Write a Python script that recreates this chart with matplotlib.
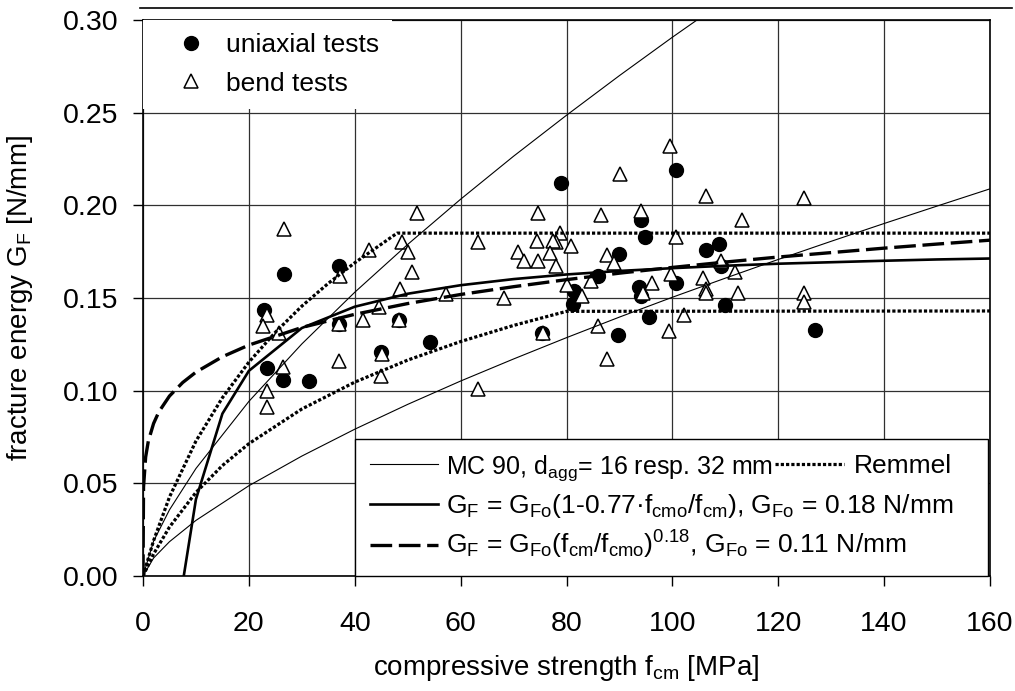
import matplotlib.pyplot as plt
from matplotlib.lines import Line2D

plt.rcParams['font.family'] = ['Liberation Sans', 'DejaVu Sans']
plt.rcParams['mathtext.fontset'] = 'custom'
plt.rcParams['mathtext.rm'] = 'Liberation Sans'
plt.rcParams['mathtext.it'] = 'Liberation Sans:italic'
plt.rcParams['font.size'] = 19

# test results: f_cm [MPa], G_F [N/mm]
uni_x = [26.7, 37.0, 22.9, 37.0, 48.4, 54.2, 44.9, 23.5, 26.5, 31.4,
         78.9, 100.6, 94.0, 94.9, 89.9, 106.3, 108.8, 109.1, 86.0, 100.6,
         81.4, 81.3, 93.7, 94.1, 95.5, 110.0, 89.8, 75.3, 126.9]
uni_y = [0.163, 0.167, 0.1435, 0.136, 0.138, 0.126, 0.121, 0.112, 0.106, 0.105,
         0.212, 0.219, 0.192, 0.183, 0.174, 0.176, 0.179, 0.167, 0.162, 0.158,
         0.154, 0.147, 0.156, 0.151, 0.140, 0.146, 0.130, 0.131, 0.133]

bend_x = [26.7, 51.8, 49.0, 50.0, 50.9, 48.5, 42.6, 37.3, 57.2, 44.6,
          41.6, 48.4, 37.0, 23.5, 22.6, 25.7, 37.0, 26.5, 45.2, 44.9,
          23.5, 23.5,
          99.5, 90.2, 106.3, 124.8, 74.7, 86.5, 94.1, 113.1, 63.3, 78.8,
          74.5, 78.0, 77.5, 80.8, 100.7, 70.9, 72.0, 74.7, 76.9, 78.0,
          87.7, 89.0, 80.0, 84.7, 83.0, 96.2, 99.7, 109.1, 111.8, 105.8,
          106.3, 106.3, 112.4, 94.4, 68.2, 124.8, 124.8, 102.2, 86.0, 75.6,
          99.4, 87.7, 63.3]
bend_y = [0.187, 0.196, 0.180, 0.175, 0.164, 0.155, 0.176, 0.162, 0.152, 0.145,
          0.138, 0.138, 0.136, 0.141, 0.135, 0.131, 0.116, 0.113, 0.120, 0.108,
          0.100, 0.091,
          0.232, 0.217, 0.205, 0.204, 0.196, 0.195, 0.197, 0.192, 0.180, 0.185,
          0.181, 0.180, 0.181, 0.178, 0.183, 0.175, 0.170, 0.170, 0.1745, 0.167,
          0.173, 0.169, 0.157, 0.159, 0.151, 0.158, 0.163, 0.170, 0.164, 0.161,
          0.155, 0.1525, 0.1525, 0.1525, 0.150, 0.1525, 0.148, 0.141, 0.135, 0.131,
          0.132, 0.117, 0.101]

# model curves
mc90_x = [0, 2, 5, 10, 20, 30, 40, 50, 60, 70, 80, 90, 100, 110, 120, 130, 140, 150, 160]
mc90_16 = [0, 0.0097, 0.0185, 0.030, 0.0487, 0.0647, 0.0792, 0.0926, 0.1052, 0.1171,
           0.1286, 0.1397, 0.1504, 0.1607, 0.1708, 0.1806, 0.1902, 0.1996, 0.2089]
mc90_32x = [0, 2, 5, 10, 20, 30, 40, 50, 60, 70, 80, 90, 100, 110]
mc90_32 = [0, 0.0188, 0.0357, 0.058, 0.0942, 0.1252, 0.1531, 0.1789, 0.2033, 0.2265,
           0.2486, 0.2700, 0.2907, 0.3107]

rem_hi_x = [0, 2, 5, 10, 15, 20, 25, 30, 35, 40, 45, 48, 160]
rem_hi_y = [0, 0.0191, 0.0426, 0.0728, 0.0962, 0.1154, 0.1315, 0.1456, 0.1579, 0.1690,
            0.1790, 0.185, 0.185]
rem_lo_x = [0, 2, 5, 10, 15, 20, 30, 40, 50, 60, 70, 80, 160]
rem_lo_y = [0, 0.0119, 0.0264, 0.0451, 0.0596, 0.0714, 0.0901, 0.1046, 0.1165, 0.1265,
            0.1352, 0.1428, 0.143]

lin_x = [7.7, 10, 15, 20, 30, 40, 50, 60, 70, 80, 90, 100, 110, 120, 130, 140, 150, 160]
lin_y = [0, 0.0414, 0.0876, 0.1107, 0.1338, 0.1453, 0.1523, 0.1569, 0.1602, 0.1627,
         0.1646, 0.1661, 0.1674, 0.1685, 0.1693, 0.1701, 0.1708, 0.1713]

pow_x = [0, 0.1, 0.5, 1, 2, 3, 5, 7.5, 10, 15, 20, 30, 40, 50, 60, 70, 80, 90, 100,
         110, 120, 130, 140, 150, 160]
pow_y = [0, 0.048, 0.0642, 0.0727, 0.0823, 0.0886, 0.0971, 0.1044, 0.110, 0.1183,
         0.1246, 0.1341, 0.1412, 0.1470, 0.1519, 0.1561, 0.1599, 0.1634, 0.1665,
         0.1694, 0.1721, 0.1745, 0.1769, 0.1791, 0.1812]

x_ticks = [0, 20, 40, 60, 80, 100, 120, 140, 160]
y_ticks = [0.00, 0.05, 0.10, 0.15, 0.20, 0.25, 0.30]
y_tick_labels = ['0.00', '0.05', '0.10', '0.15', '0.20', '0.25', '0.30']

lab_mc90 = 'MC 90, d$_{\\mathregular{agg}}$= 16 resp. 32 mm'
lab_lin = ('G$_{\\mathregular{F}}$ = G$_{\\mathregular{Fo}}$(1-0.77\u00b7f$_{\\mathregular{cmo}}$'
           '/f$_{\\mathregular{cm}}$), G$_{\\mathregular{Fo}}$ = 0.18 N/mm')
lab_pow = ('G$_{\\mathregular{F}}$ = G$_{\\mathregular{Fo}}$(f$_{\\mathregular{cm}}$'
           '/f$_{\\mathregular{cmo}}$)$^{\\mathregular{0.18}}$, G$_{\\mathregular{Fo}}$ = 0.11 N/mm')

fig = plt.figure(figsize=(10.15, 6.91), dpi=100)
ax = fig.add_axes([143 / 1015, 115 / 691, 847 / 1015, 556 / 691])

uni, = ax.plot(uni_x, uni_y, 'o', ms=10, mfc='k', mec='k', zorder=3)
bend, = ax.plot(bend_x, bend_y, '^', ms=10, mfc='white', mec='k', mew=1.1, zorder=4)

mc, = ax.plot(mc90_x, mc90_16, color='k', lw=0.8, zorder=5)
ax.plot(mc90_32x, mc90_32, color='k', lw=0.8, zorder=5)
rem, = ax.plot(rem_hi_x, rem_hi_y, color='k', lw=2.3, ls=(0, (1, 0.65)), zorder=5)
ax.plot(rem_lo_x, rem_lo_y, color='k', lw=2.3, ls=(0, (1, 0.65)), zorder=5)
lin, = ax.plot(lin_x, lin_y, color='k', lw=1.9, zorder=6)
pw, = ax.plot(pow_x, pow_y, color='k', lw=2.4, ls=(0, (6.5, 2)), zorder=6)

ax.set_xlim(0, 160)
ax.set_ylim(0, 0.30)
ax.set_xticks(x_ticks)
ax.set_yticks(y_ticks)
ax.set_yticklabels(y_tick_labels)
ax.grid(True, color='#303030', lw=0.9)
ax.set_axisbelow(True)
for s in ax.spines.values():
    s.set_linewidth(1.2)
ax.tick_params(axis='both', direction='out', length=7, width=1, labelsize=20.5)
ax.tick_params(axis='x', pad=18)
ax.tick_params(axis='y', pad=11)

ax.set_xlabel('compressive strength f$_{\\mathregular{cm}}$ [MPa]', fontsize=20, labelpad=12)
ax.set_ylabel('fracture energy G$_{\\mathregular{F}}$ [N/mm]', fontsize=20, labelpad=20)

leg1 = ax.legend([uni, bend], ['uniaxial tests', 'bend tests'], loc='upper left',
                 bbox_to_anchor=(0, 1), borderaxespad=0, fancybox=False,
                 edgecolor='none', facecolor='white', framealpha=1, borderpad=0.5,
                 handlelength=2.6, handletextpad=0.05, labelspacing=0.55)
leg1.set_zorder(10)
ax.add_artist(leg1)

leg2 = ax.legend([mc, lin, pw], [lab_mc90, lab_lin, lab_pow], loc='lower left',
                 bbox_to_anchor=(212 / 847, 0, 633 / 847, 0.3), mode='expand',
                 borderaxespad=0, fancybox=False, edgecolor='k', facecolor='white',
                 framealpha=1, borderpad=0.55, handlelength=2.6, handletextpad=0.3,
                 labelspacing=0.35)
leg2.get_texts()[0].set_fontsize(18)
leg2.get_frame().set_linewidth(1.0)
leg2.set_zorder(10)
ax.add_artist(leg2)

leg3 = ax.legend([rem], ['Remmel'], loc='center left',
                 bbox_to_anchor=(632 / 847, 110 / 556), borderaxespad=0, borderpad=0,
                 frameon=False, handlelength=2.6, handletextpad=0.4)
leg3.set_zorder(11)

fig.add_artist(Line2D([140 / 1015, 1012 / 1015], [1 - 8 / 691, 1 - 8 / 691],
                      color='k', lw=1.2))

fig.savefig('out.png', dpi=100)
